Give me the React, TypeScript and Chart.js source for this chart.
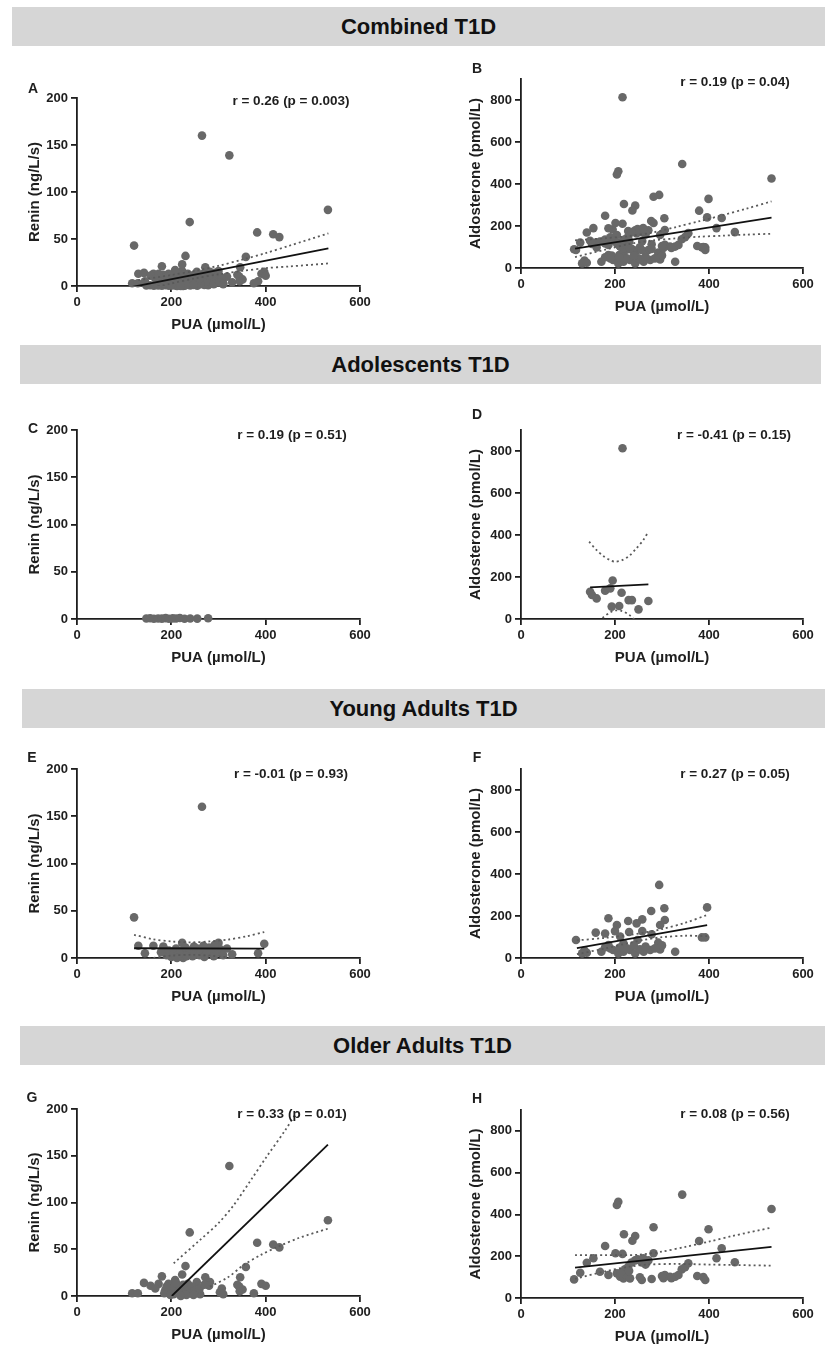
import React, { useEffect, useRef } from "react";
import { Chart, registerables } from "chart.js";

Chart.register(...registerables);

type XY = [number, number];

// ---------- tick labels ----------
const puaTicks = [0, 200, 400, 600];
const reninTicks = [0, 50, 100, 150, 200];
const aldoTicks = [0, 200, 400, 600, 800];

// ---------- Adolescents ----------
const adolRenin: XY[] = [
  [147, 0.5], [155, 0.8], [163, 0.3], [172, 0.6], [180, 0.4], [188, 0.9], [195, 0.2],
  [203, 0.7], [210, 0.5], [218, 1.0], [228, 0.3], [240, 0.6], [255, 0.4], [278, 0.8],
];
const adolAldo: XY[] = [
  [216, 813], [195, 183], [147, 130], [151, 114], [161, 98], [179, 135], [190, 146],
  [214, 125], [229, 90], [236, 90], [271, 86], [193, 59], [209, 62], [250, 46],
];
const adolAldoFit: XY[] = [[147, 151], [271, 165]];
const adolAldoCiUpper: XY[] = [
  [145, 368], [160, 330], [175, 300], [190, 280], [200, 273], [215, 280], [230, 300],
  [245, 335], [260, 375], [271, 416],
];
const adolAldoCiLower: XY[] = [
  [145, -66], [160, -25], [175, 8], [190, 32], [200, 41], [215, 38], [230, 20],
  [245, -11], [260, -47], [271, -86],
];

// ---------- Young adults ----------
const youngRenin: XY[] = [
  [121, 43], [265, 160], [130, 13], [162, 13], [183, 12], [223, 16], [300, 16], [397, 15],
  [384, 5], [329, 4], [144, 5], [190, 3], [195, 8], [200, 1], [205, 5], [210, 10],
  [215, 3], [220, 7], [225, 0], [230, 11], [235, 4], [240, 8], [245, 2], [250, 6],
  [255, 10], [260, 3], [265, 9], [270, 1], [275, 5], [280, 11], [285, 7], [290, 2],
  [295, 12], [300, 6], [305, 9], [310, 3], [186, 9], [212, 0], [248, 12], [292, 14],
  [318, 10], [178, 6], [232, 2], [268, 13],
];
const youngReninFit: XY[] = [[121, 10.3], [397, 10]];
const youngReninCiUpper: XY[] = [
  [121, 24.5], [160, 20], [200, 17.5], [243, 16.6], [280, 17.5], [320, 19.5], [360, 23], [397, 27.5],
];
const youngReninCiLower: XY[] = [
  [121, -4.5], [160, 0], [200, 2.5], [243, 3.4], [280, 2.5], [320, 0.5], [360, -3], [397, -7.5],
];
const youngAldo: XY[] = [
  [294, 348], [396, 241], [277, 224], [305, 237], [186, 189], [204, 157], [228, 176],
  [258, 184], [246, 165], [306, 181], [296, 157], [159, 121], [179, 117], [200, 128],
  [230, 124], [258, 128], [278, 113], [211, 102], [117, 86], [248, 86], [218, 70],
  [292, 73], [186, 62], [385, 98], [392, 98], [135, 35], [130, 22], [196, 38], [218, 30],
  [232, 38], [261, 30], [275, 38], [296, 41], [328, 30], [171, 30], [179, 51], [207, 22],
  [225, 46], [243, 22], [253, 41], [285, 46], [140, 25], [190, 45], [240, 60], [265, 55],
  [300, 60], [210, 50],
];
const youngAldoFit: XY[] = [[119, 47], [396, 157]];
const youngAldoCiUpper: XY[] = [
  [119, 84], [180, 96], [230, 110], [260, 120], [300, 138], [350, 168], [396, 205],
];
const youngAldoCiLower: XY[] = [
  [119, 18], [180, 46], [230, 72], [260, 86], [300, 99], [350, 106], [396, 104],
];

// ---------- Older adults ----------
const olderRenin: XY[] = [
  [323, 139], [532, 81], [239, 68], [382, 57], [416, 55], [429, 52], [358, 31], [230, 32],
  [346, 20], [223, 23], [180, 21], [272, 20], [282, 15], [254, 15], [142, 14], [156, 11],
  [173, 13], [208, 17], [194, 13], [235, 13], [340, 12], [391, 13], [400, 11], [280, 11],
  [307, 8], [351, 7], [344, 10], [117, 3], [129, 3], [375, 3], [261, 2], [303, 4],
  [219, 6], [229, 7], [244, 10], [187, 6], [205, 2], [212, 10], [166, 8], [200, 8],
  [215, 4], [225, 12], [240, 3], [250, 6], [185, 3], [198, 1], [260, 8], [232, 1],
  [210, 14], [345, 5], [310, 2], [270, 12], [190, 10], [220, 0], [247, 1],
];
const olderReninFit: XY[] = [[201, 0], [532, 162]];
const olderReninCiUpper: XY[] = [
  [205, 35], [261, 60], [300, 78], [332, 97], [370, 125], [402, 149], [441, 177], [470, 200],
];
const olderReninCiLower: XY[] = [
  [282, 10], [320, 20], [353, 33], [390, 44], [423, 52], [470, 62], [532, 72],
];
const olderAldo: XY[] = [
  [343, 495], [533, 426], [207, 461], [204, 445], [282, 339], [399, 329], [219, 305],
  [243, 297], [237, 274], [179, 249], [379, 273], [427, 238], [416, 190], [455, 171],
  [201, 214], [216, 211], [282, 214], [154, 190], [140, 169], [243, 180], [257, 170],
  [271, 180], [168, 126], [126, 121], [113, 89], [186, 110], [204, 118], [211, 102],
  [218, 94], [225, 110], [232, 94], [221, 137], [228, 150], [253, 99], [257, 86],
  [278, 91], [306, 110], [317, 102], [328, 102], [335, 110], [342, 137], [349, 147],
  [356, 166], [375, 105], [392, 86], [303, 95], [265, 160], [248, 185], [230, 130],
  [320, 95], [212, 120], [388, 100], [235, 170], [260, 190], [300, 105],
];
const olderAldoFit: XY[] = [[115, 145], [533, 245]];
const olderAldoCiUpper: XY[] = [
  [115, 205], [180, 205], [250, 207], [300, 222], [350, 245], [400, 270], [450, 297], [533, 337],
];
const olderAldoCiLower: XY[] = [
  [115, 92], [180, 128], [230, 150], [270, 160], [330, 163], [400, 160], [533, 155],
];

// ---------- Combined ----------
const combinedRenin: XY[] = [...adolRenin, ...youngRenin, ...olderRenin];
const combinedReninFit: XY[] = [[117, -1], [533, 40]];
const combinedReninCiUpper: XY[] = [
  [130, 6.3], [200, 11.7], [250, 16.1], [300, 21.5], [350, 28], [400, 35], [450, 42.8], [533, 56],
];
const combinedReninCiLower: XY[] = [
  [130, -5.7], [200, 2.7], [250, 8.1], [300, 12.5], [350, 16], [400, 19], [450, 20.8], [533, 24],
];
const combinedAldo: XY[] = [...adolAldo, ...youngAldo, ...olderAldo];
const combinedAldoFit: XY[] = [[115, 92], [533, 240]];
const combinedAldoCiUpper: XY[] = [
  [115, 132], [180, 142], [230, 152], [280, 169], [330, 195], [380, 223], [430, 252], [480, 283], [533, 317],
];
const combinedAldoCiLower: XY[] = [
  [115, 52], [180, 88], [230, 114], [280, 131], [330, 141], [380, 149], [430, 154], [480, 159], [533, 163],
];

// ---------- texts ----------
const headers = ["Combined T1D", "Adolescents T1D", "Young Adults T1D", "Older Adults T1D"];
const reninTitle = "Renin (ng/L/s)";
const aldoTitle = "Aldosterone (pmol/L)";
const puaTitle = "PUA (µmol/L)";

const FONT = "'Liberation Sans', Arial, Helvetica, sans-serif";
const INK = "#1e1e1e";
const DOT = "#686868";

type PanelSpec = {
  letter: string;
  ann: string;
  kind: "renin" | "aldo";
  area: { l: number; t: number; r: number; b: number };
  letterPos: [number, number];
  annPos: [number, number];
  points: XY[];
  fit?: XY[];
  ciU?: XY[];
  ciL?: XY[];
};

const panels: PanelSpec[] = [
  { letter: "A", ann: "r = 0.26 (p = 0.003)", kind: "renin", area: { l: 77, t: 98, r: 360, b: 286 },
    letterPos: [33, 88], annPos: [291, 101], points: combinedRenin, fit: combinedReninFit,
    ciU: combinedReninCiUpper, ciL: combinedReninCiLower },
  { letter: "B", ann: "r = 0.19 (p = 0.04)", kind: "aldo", area: { l: 521, t: 79, r: 803, b: 268 },
    letterPos: [477, 68], annPos: [735, 82], points: combinedAldo, fit: combinedAldoFit,
    ciU: combinedAldoCiUpper, ciL: combinedAldoCiLower },
  { letter: "C", ann: "r = 0.19 (p = 0.51)", kind: "renin", area: { l: 77, t: 430, r: 360, b: 619 },
    letterPos: [33, 428], annPos: [292, 435], points: adolRenin },
  { letter: "D", ann: "r = -0.41 (p = 0.15)", kind: "aldo", area: { l: 521, t: 430, r: 803, b: 619 },
    letterPos: [477, 414], annPos: [734, 435], points: adolAldo, fit: adolAldoFit,
    ciU: adolAldoCiUpper, ciL: adolAldoCiLower },
  { letter: "E", ann: "r = -0.01 (p = 0.93)", kind: "renin", area: { l: 77, t: 769, r: 360, b: 958 },
    letterPos: [32, 757], annPos: [291, 774], points: youngRenin, fit: youngReninFit,
    ciU: youngReninCiUpper, ciL: youngReninCiLower },
  { letter: "F", ann: "r = 0.27 (p = 0.05)", kind: "aldo", area: { l: 521, t: 769, r: 803, b: 958 },
    letterPos: [477, 757], annPos: [735, 774], points: youngAldo, fit: youngAldoFit,
    ciU: youngAldoCiUpper, ciL: youngAldoCiLower },
  { letter: "G", ann: "r = 0.33 (p = 0.01)", kind: "renin", area: { l: 77, t: 1109, r: 360, b: 1296 },
    letterPos: [32, 1097], annPos: [292, 1114], points: olderRenin, fit: olderReninFit,
    ciU: olderReninCiUpper, ciL: olderReninCiLower },
  { letter: "H", ann: "r = 0.08 (p = 0.56)", kind: "aldo", area: { l: 521, t: 1110, r: 803, b: 1298 },
    letterPos: [477, 1098], annPos: [735, 1114], points: olderAldo, fit: olderAldoFit,
    ciU: olderAldoCiUpper, ciL: olderAldoCiLower },
];

const headerBoxes = [
  { l: 12, r: 825, t: 7, h: 39 },
  { l: 20, r: 821, t: 345, h: 39 },
  { l: 22, r: 825, t: 689, h: 39 },
  { l: 20, r: 825, t: 1026, h: 39 },
];

const YW = 56; // fixed y-axis box width
const XH = 48; // fixed x-axis box height
const PT = 12;
const PR = 16;
const PB = 2;

const toPts = (a: XY[]) => a.map(([x, y]) => ({ x, y }));

function Panel({ p }: { p: PanelSpec }) {
  const ref = useRef<HTMLCanvasElement | null>(null);
  const { l, t, r, b } = p.area;
  const w = r - l + YW + PR;
  const h = b - t + PT + XH + PB;

  useEffect(() => {
    if (!ref.current) return;
    const isRenin = p.kind === "renin";
    const yTicks = isRenin ? reninTicks : aldoTicks;
    const datasets: any[] = [];
    if (p.fit) {
      datasets.push({ data: toPts(p.fit), showLine: true, borderColor: "#111", borderWidth: 1.8,
        pointRadius: 0, fill: false });
    }
    if (p.ciU) {
      datasets.push({ data: toPts(p.ciU), showLine: true, borderColor: "#5a5a5a", borderWidth: 1.8,
        borderDash: [2, 3], pointRadius: 0, fill: false, tension: 0.3 });
    }
    if (p.ciL) {
      datasets.push({ data: toPts(p.ciL), showLine: true, borderColor: "#5a5a5a", borderWidth: 1.8,
        borderDash: [2, 3], pointRadius: 0, fill: false, tension: 0.3 });
    }
    datasets.push({ data: toPts(p.points), showLine: false, pointRadius: 4.3, pointBorderWidth: 0,
      pointBackgroundColor: DOT, backgroundColor: DOT, borderColor: DOT, clip: false });

    const tickFont = { family: FONT, size: 13, weight: "bold" as const };
    const titleFont = { family: FONT, size: 15, weight: "bold" as const };
    const chart = new Chart(ref.current, {
      type: "scatter",
      data: { datasets },
      options: {
        animation: false,
        responsive: false,
        maintainAspectRatio: false,
        events: [],
        layout: { padding: { left: 0, top: PT, right: PR, bottom: PB } },
        plugins: { legend: { display: false }, tooltip: { enabled: false } },
        scales: {
          x: {
            type: "linear",
            min: 0,
            max: 600,
            afterBuildTicks: (ax: any) => { ax.ticks = puaTicks.map((v) => ({ value: v })); },
            afterFit: (ax: any) => { ax.height = XH; },
            grid: { drawOnChartArea: false, drawTicks: true, tickLength: 6, color: INK, lineWidth: 1.8 },
            border: { display: true, color: INK, width: 1.8 },
            ticks: { font: tickFont, color: INK, padding: 3, maxRotation: 0, autoSkip: false },
            title: { display: true, text: puaTitle, font: titleFont, color: INK, padding: { top: 0, bottom: 0 } },
          },
          y: {
            type: "linear",
            min: 0,
            max: isRenin ? 200 : 900,
            afterBuildTicks: (ax: any) => { ax.ticks = yTicks.map((v) => ({ value: v })); },
            afterFit: (ax: any) => { ax.width = YW; },
            grid: { drawOnChartArea: false, drawTicks: true, tickLength: 6, color: INK, lineWidth: 1.8 },
            border: { display: true, color: INK, width: 1.8 },
            ticks: { font: tickFont, color: INK, padding: 3, autoSkip: false },
            title: { display: true, text: isRenin ? reninTitle : aldoTitle, font: titleFont, color: INK,
              padding: { top: isRenin ? 5 : 1.5, bottom: 0 } },
          },
        },
      } as any,
    });
    return () => chart.destroy();
  }, [p]);

  return (
    <>
      <canvas
        ref={ref}
        width={w}
        height={h}
        style={{ position: "absolute", left: l - YW, top: t - PT, width: w, height: h }}
      />
      <div style={{ position: "absolute", left: p.letterPos[0], top: p.letterPos[1],
        transform: "translate(-50%, -50%)", font: `bold 14px ${FONT}`, color: INK, lineHeight: 1 }}>
        {p.letter}
      </div>
      <div style={{ position: "absolute", left: p.annPos[0], top: p.annPos[1], whiteSpace: "nowrap",
        transform: "translate(-50%, -50%)", font: `bold 13.5px ${FONT}`, color: INK, lineHeight: 1 }}>
        {p.ann}
      </div>
    </>
  );
}

export default function App() {
  return (
    <div style={{ position: "absolute", left: 0, top: 0, width: 827, height: 1345, background: "#fff",
      overflow: "hidden" }}>
      {headerBoxes.map((hb, i) => (
        <div key={i} style={{ position: "absolute", left: hb.l, top: hb.t, width: hb.r - hb.l, height: hb.h,
          background: "#d6d6d6", display: "flex", alignItems: "center", justifyContent: "center",
          font: `bold 22px ${FONT}`, color: "#111" }}>
          {headers[i]}
        </div>
      ))}
      {panels.map((p) => <Panel key={p.letter} p={p} />)}
    </div>
  );
}
